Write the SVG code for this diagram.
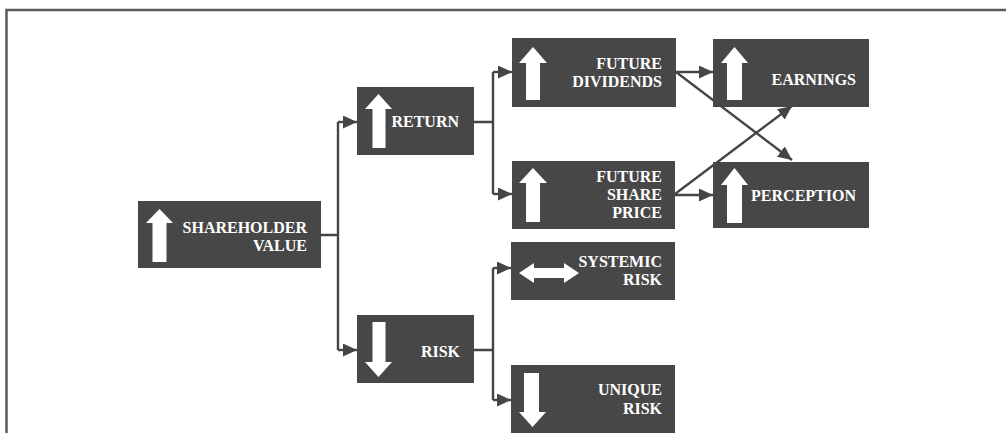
<svg xmlns="http://www.w3.org/2000/svg" width="1006" height="433" viewBox="0 0 1006 433">
<style>
.box{fill:#474747}
.lbl{font-family:"Liberation Serif","Times New Roman",serif;font-weight:bold;font-size:16px;fill:#ffffff;text-anchor:end}
.ico{fill:#ffffff}
.con{stroke:#454545;stroke-width:2.4;fill:none}
.arr{stroke:#454545;stroke-width:2.4;fill:none;marker-end:url(#ah)}
</style>
<defs>
<marker id="ah" markerUnits="userSpaceOnUse" markerWidth="15" markerHeight="13" refX="14" refY="6.5" orient="auto">
<path d="M0,0 L14,6.5 L0,13 Z" fill="#454545"/>
</marker>
</defs>
<rect width="1006" height="433" fill="#ffffff"/>
<path d="M1006,10 H6.5 V433" stroke="#5a5a5a" stroke-width="2.5" fill="none"/>

<g id="connectors">
<path class="con" d="M321,235 H338 M338,122 V350"/>
<path class="arr" d="M338,122 H357"/>
<path class="arr" d="M338,350 H357"/>
<path class="con" d="M474,122 H493 M493,72 V194"/>
<path class="arr" d="M493,72 H512"/>
<path class="arr" d="M493,194 H512"/>
<path class="con" d="M474,350 H493 M493,268 V400"/>
<path class="arr" d="M493,268 H511"/>
<path class="arr" d="M493,400 H511"/>
<path class="arr" d="M676,72 H713"/>
<path class="arr" d="M675,195 H713"/>
<path class="arr" d="M676,72 L792,160"/>
<path class="arr" d="M675,194 L792,106"/>
</g>

<g id="shareholder-value">
<rect class="box" x="138" y="201" width="183" height="67"/>
<path class="ico" d="M146,223 L159.5,209 L173,223 L166.5,223 L166.5,262 L152.5,262 L152.5,223 Z"/>
<text class="lbl" x="307" y="233">SHAREHOLDER</text>
<text class="lbl" x="307" y="251">VALUE</text>
</g>

<g id="return">
<rect class="box" x="357" y="87" width="117" height="68"/>
<path class="ico" d="M365,109 L378.5,94 L392,109 L385.5,109 L385.5,148 L372.5,148 L372.5,109 Z"/>
<text class="lbl" x="459" y="127">RETURN</text>
</g>

<g id="risk">
<rect class="box" x="357" y="315" width="117" height="68"/>
<path class="ico" d="M372.5,322 L385.5,322 L385.5,362 L392,362 L378.5,377 L365,362 L372.5,362 Z"/>
<text class="lbl" x="460" y="357">RISK</text>
</g>

<g id="future-dividends">
<rect class="box" x="512" y="38" width="164" height="69"/>
<path class="ico" d="M519,63 L533,47 L547,63 L540,63 L540,100 L526,100 L526,63 Z"/>
<text class="lbl" x="662" y="69">FUTURE</text>
<text class="lbl" x="662" y="87">DIVIDENDS</text>
</g>

<g id="future-share-price">
<rect class="box" x="512" y="161" width="163" height="68"/>
<path class="ico" d="M519,183 L533,168 L547,183 L540,183 L540,222 L526,222 L526,183 Z"/>
<text class="lbl" x="662" y="182">FUTURE</text>
<text class="lbl" x="662" y="200">SHARE</text>
<text class="lbl" x="662" y="218">PRICE</text>
</g>

<g id="earnings">
<rect class="box" x="713" y="39" width="156" height="68"/>
<path class="ico" d="M721,63 L734.5,47 L748,63 L742,63 L742,100 L727,100 L727,63 Z"/>
<text class="lbl" x="856" y="85">EARNINGS</text>
</g>

<g id="perception">
<rect class="box" x="713" y="162" width="156" height="66"/>
<path class="ico" d="M721,185 L734.5,168 L748,185 L742,185 L742,223 L727,223 L727,185 Z"/>
<text class="lbl" x="856" y="201">PERCEPTION</text>
</g>

<g id="systemic-risk">
<rect class="box" x="511" y="242" width="164" height="58"/>
<path class="ico" d="M519,273 L534,263 L534,268 L564,268 L564,263 L579,273 L564,283 L564,278 L534,278 L534,283 Z"/>
<text class="lbl" x="662" y="267">SYSTEMIC</text>
<text class="lbl" x="662" y="285">RISK</text>
</g>

<g id="unique-risk">
<rect class="box" x="511" y="365" width="164" height="68"/>
<path class="ico" d="M524,373 L539,373 L539,412 L546,412 L532.5,427 L519,412 L524,412 Z"/>
<text class="lbl" x="662" y="395">UNIQUE</text>
<text class="lbl" x="662" y="414">RISK</text>
</g>
</svg>
